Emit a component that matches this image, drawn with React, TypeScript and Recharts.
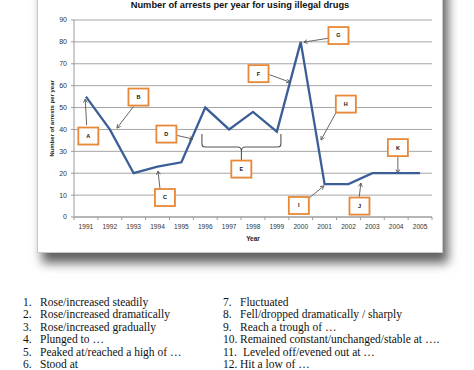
import React from 'react';
import {
  LineChart,
  Line,
  XAxis,
  YAxis,
  CartesianGrid,
  ReferenceDot,
  ReferenceLine,
} from 'recharts';

// data
const years = [1991, 1992, 1993, 1994, 1995, 1996, 1997, 1998, 1999, 2000, 2001, 2002, 2003, 2004, 2005];
const arrests = [55, 40, 20, 23, 25, 50, 40, 48, 39, 80, 15, 15, 20, 20, 20];
const yTicks = [0, 10, 20, 30, 40, 50, 60, 70, 80, 90];

// annotation boxes (position in year / value units)
const boxLetters = ['A', 'B', 'C', 'D', 'E', 'F', 'G', 'H', 'I', 'J', 'K'];
const boxYear = [1991.1, 1993.2, 1994.31, 1994.37, 1997.51, 1998.23, 2001.58, 2001.89, 1999.92, 2002.46, 2004.07];
const boxValue = [37.0, 54.8, 8.9, 37.9, 21.9, 65.5, 82.9, 51.6, 5.25, 5.0, 31.7];

// arrows: from box edge to the line
const arrowLetters = ['A', 'B', 'C', 'D', 'F', 'G', 'H', 'I', 'J', 'K'];
const arrowFromYear = [1991.03, 1993.01, 1994.1, 1994.77, 1998.62, 2001.18, 2001.47, 2000.3, 2002.44, 2004.07];
const arrowFromValue = [42.0, 50.7, 13.2, 37.4, 65.3, 81.7, 47.5, 8.2, 8.2, 27.9];
const arrowToYear = [1990.97, 1992.3, 1994.02, 1995.48, 1999.55, 2000.13, 2000.85, 2000.97, 2002.52, 2004.07];
const arrowToValue = [53.9, 40.6, 21.0, 35.6, 61.6, 79.9, 35.2, 14.2, 15.5, 20.1];

// brace under the fluctuation (E)
const braceYears = [1995.86, 1999.17];
const braceValue = 32;

const phrasesLeft = [
  'Rose/increased steadily',
  'Rose/increased dramatically',
  'Rose/increased gradually',
  'Plunged to \u2026',
  'Peaked at/reached a high of \u2026',
  'Stood at',
];
const phrasesRight = [
  'Fluctuated',
  'Fell/dropped dramatically / sharply',
  'Reach a trough of \u2026',
  'Remained constant/unchanged/stable at \u2026.',
  ' Leveled off/evened out at \u2026',
  'Hit a low of \u2026',
];

const data = years.map((year, i) => ({ year, arrests: arrests[i] }));

const BOX_W = 20;
const BOX_H = 17;

const YearTick = (props: any) => {
  const { x, y, payload, index, width } = props;
  const w = typeof width === 'number' && width > 100 ? width : 358;
  const half = w / years.length / 2;
  const axisY = y - 7;
  return (
    <g>
      <line x1={x - half} y1={axisY} x2={x - half} y2={axisY + 3} stroke="#9a9a9a" />
      {index === years.length - 1 && (
        <line x1={x + half} y1={axisY} x2={x + half} y2={axisY + 3} stroke="#9a9a9a" />
      )}
      <text x={x} y={y} dy="0.71em" textAnchor="middle" fontSize={6.6} fill="#333" fontFamily="Liberation Sans, Arial, sans-serif">
        {payload.value}
      </text>
    </g>
  );
};

const Arrow = (p: any) => {
  const { x1, y1, x2, y2 } = p;
  const ang = Math.atan2(y2 - y1, x2 - x1);
  const L = 4;
  const s = 0.5;
  const ax = x2 - L * Math.cos(ang - s);
  const ay = y2 - L * Math.sin(ang - s);
  const bx = x2 - L * Math.cos(ang + s);
  const by = y2 - L * Math.sin(ang + s);
  return (
    <g stroke="#555" strokeWidth={0.9} fill="none">
      <line x1={x1} y1={y1} x2={x2} y2={y2} />
      <polyline points={`${ax},${ay} ${x2},${y2} ${bx},${by}`} />
    </g>
  );
};

const Brace = (p: any) => {
  const { x1, y1, x2 } = p;
  const y = y1;
  const cx = (x1 + x2) / 2;
  const d = `M${x1},${y - 13} L${x1},${y - 3} Q${x1},${y} ${x1 + 3},${y} L${cx - 4},${y} Q${cx},${y} ${cx},${y + 4} Q${cx},${y} ${cx + 4},${y} L${x2 - 3},${y} Q${x2},${y} ${x2},${y - 3} L${x2},${y - 13} M${cx},${y + 4} L${cx},${y + 13}`;
  return <path d={d} stroke="#555" strokeWidth={1.1} fill="none" />;
};

const makeBox = (letter: string) => (p: any) => {
  const { cx, cy } = p;
  return (
    <g>
      <rect x={cx - BOX_W / 2 + 1} y={cy - BOX_H / 2 + 1} width={BOX_W} height={BOX_H} fill="#e6e0da" />
      <rect x={cx - BOX_W / 2} y={cy - BOX_H / 2} width={BOX_W} height={BOX_H} fill="#fff" stroke="#e8893a" strokeWidth={1.8} />
      <text x={cx} y={cy} dy="0.35em" textAnchor="middle" fontSize={5.5} fontWeight="bold" fill="#111" fontFamily="Liberation Sans, Arial, sans-serif">
        {letter}
      </text>
    </g>
  );
};

const YLabel = (p: any) => {
  const vb = p.viewBox || { x: 38, y: 20, height: 197 };
  const cx = vb.x + 14;
  const cy = vb.y + vb.height / 2;
  return (
    <text
      x={cx}
      y={cy}
      transform={`rotate(-90 ${cx} ${cy})`}
      textAnchor="middle"
      dominantBaseline="central"
      fontSize={6}
      fontWeight="bold"
      fill="#222"
      fontFamily="Liberation Sans, Arial, sans-serif"
    >
      Number of arrests per year
    </text>
  );
};

const listFont = '"Liberation Serif", "Times New Roman", serif';

export default function App() {
  return (
    <div style={{ position: 'absolute', left: 0, top: 0, width: 474, height: 370, overflow: 'hidden', background: '#fff' }}>
      {/* card with drop shadow */}
      <div
        style={{
          position: 'absolute',
          left: 37,
          top: -20,
          width: 404,
          height: 271,
          background: '#fff',
          border: '1px solid #c8c8c8',
          boxShadow: '5px 10px 10px rgba(0,0,0,0.62)',
        }}
      />
      <div
        style={{
          position: 'absolute',
          left: 37,
          top: 0,
          width: 406,
          textAlign: 'center',
          fontFamily: 'Liberation Sans, Arial, sans-serif',
          fontWeight: 'bold',
          fontSize: 9.3,
          color: '#111',
        }}
      >
        Number of arrests per year for using illegal drugs
      </div>
      <div style={{ position: 'absolute', left: 0, top: 0 }}>
        <LineChart width={474} height={260} data={data} margin={{ top: 20, right: 42, left: 38, bottom: 13 }}>
          <CartesianGrid vertical={false} stroke="#a4a4a4" />
          <XAxis
            dataKey="year"
            type="number"
            domain={[1990.5, 2005.5]}
            ticks={years}
            interval={0}
            allowDataOverflow
            tick={<YearTick />}
            tickLine={false}
            tickSize={3}
            tickMargin={4}
            axisLine={{ stroke: '#9a9a9a' }}
            height={30}
            label={{ value: 'Year', position: 'insideBottom', offset: 6, fontSize: 6.5, fontWeight: 'bold', fill: '#222', fontFamily: 'Liberation Sans, Arial, sans-serif' }}
          />
          <YAxis
            domain={[0, 90]}
            ticks={yTicks}
            interval={0}
            width={36}
            tickSize={3}
            tickMargin={4}
            axisLine={{ stroke: '#9a9a9a' }}
            tickLine={{ stroke: '#9a9a9a' }}
            tick={{ fontSize: 7, fill: '#333', fontFamily: 'Liberation Sans, Arial, sans-serif' }}
            label={{ content: <YLabel /> }}
          />
          <Line
            type="linear"
            dataKey="arrests"
            stroke="#3c5e98"
            strokeWidth={2.3}
            dot={false}
            isAnimationActive={false}
          />
          {arrowLetters.map((l, i) => (
            <ReferenceLine
              key={'arrow' + l}
              segment={[
                { x: arrowFromYear[i], y: arrowFromValue[i] },
                { x: arrowToYear[i], y: arrowToValue[i] },
              ]}
              ifOverflow="visible"
              shape={Arrow}
            />
          ))}
          <ReferenceLine
            segment={[
              { x: braceYears[0], y: braceValue },
              { x: braceYears[1], y: braceValue },
            ]}
            ifOverflow="visible"
            shape={Brace}
          />
          {boxLetters.map((l, i) => (
            <ReferenceDot
              key={'box' + l}
              x={boxYear[i]}
              y={boxValue[i]}
              r={10}
              ifOverflow="visible"
              shape={makeBox(l)}
            />
          ))}
        </LineChart>
      </div>
      {/* phrase list */}
      {phrasesLeft.map((t, i) => (
        <div key={'l' + i} style={{ position: 'absolute', top: 296 + 12.45 * i, left: 0, fontFamily: listFont, fontSize: 11.5, lineHeight: '12.5px', color: '#111', whiteSpace: 'nowrap' }}>
          <span style={{ position: 'absolute', left: 23 }}>{i + 1}.</span>
          <span style={{ position: 'absolute', left: 40 }}>{t}</span>
        </div>
      ))}
      {phrasesRight.map((t, i) => (
        <div key={'r' + i} style={{ position: 'absolute', top: 296 + 12.45 * i, left: 0, fontFamily: listFont, fontSize: 11.5, lineHeight: '12.5px', color: '#111', whiteSpace: 'pre' }}>
          <span style={{ position: 'absolute', left: 223 }}>{i + 7}.</span>
          <span style={{ position: 'absolute', left: 240 }}>{t}</span>
        </div>
      ))}
    </div>
  );
}
